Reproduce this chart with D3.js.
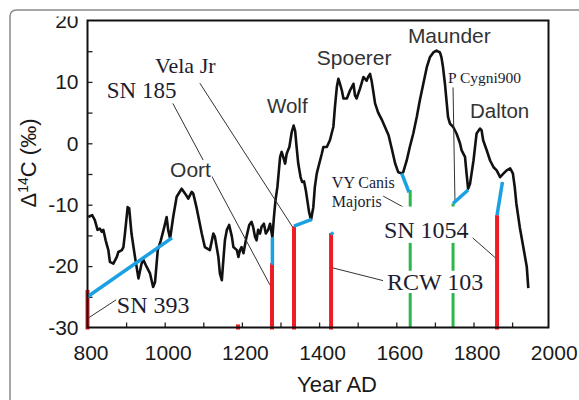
<!DOCTYPE html>
<html><head><meta charset="utf-8">
<script src="https://cdn.jsdelivr.net/npm/d3@7"></script>
<style>body{margin:0;background:#fff}svg{display:block}</style>
</head><body>
<svg id="c" width="579" height="400"></svg>
<script>
// ---- data ----
const years = [802,812,819,826,832,837,841,847,854,858,867,876,880,889,893,897,904,908,914,923,932,940,945,953,962,970,975,982,990,999,1005,1009,1014,1022,1031,1044,1053,1061,1070,1074,1083,1096,1104,1117,1126,1130,1139,1143,1148,1152,1156,1161,1167,1174,1178,1187,1191,1195,1199,1204,1212,1219,1225,1229,1234,1238,1242,1247,1251,1257,1262,1268,1273,1279,1283,1287,1292,1299,1303,1307,1312,1316,1323,1329,1334,1338,1342,1346,1352,1356,1361,1366,1370,1374,1379,1385,1389,1394,1398,1407,1411,1420,1428,1437,1441,1446,1450,1454,1459,1463,1472,1480,1485,1489,1493,1497,1506,1515,1523,1527,1532,1536,1540,1545,1553,1562,1571,1580,1588,1597,1605,1614,1618,1627,1635,1644,1653,1661,1670,1679,1687,1696,1704,1713,1717,1721,1726,1730,1734,1739,1747,1756,1765,1769,1778,1782,1786,1791,1800,1808,1817,1821,1825,1834,1843,1852,1860,1869,1878,1886,1895,1902,1907,1911,1920,1929,1938,1942];
const delta14C = [-12.0,-11.7,-12.5,-14.1,-13.9,-14.4,-14.1,-15.8,-17.4,-19.3,-19.6,-18.5,-17.7,-17.4,-16.9,-14.7,-10.4,-10.6,-14.7,-18.5,-22.0,-19.6,-19.0,-20.1,-21.2,-23.4,-22.6,-17.4,-15.8,-13.6,-12.0,-14.1,-15.5,-12.0,-8.7,-7.4,-8.2,-9.0,-7.9,-8.2,-10.6,-14.7,-16.9,-17.4,-14.7,-15.2,-18.5,-21.2,-22.3,-19.0,-15.8,-14.1,-13.3,-15.2,-16.9,-17.4,-18.5,-17.4,-16.9,-17.9,-15.2,-13.3,-12.8,-13.6,-15.2,-15.8,-14.1,-14.7,-13.6,-13.1,-14.7,-14.1,-13.1,-15.3,-12.0,-9.3,-7.1,-2.2,-1.4,-2.2,-3.3,-1.7,-0.6,1.8,2.9,2.0,-0.8,-3.3,-5.5,-6.3,-6.2,-7.8,-9.5,-11.2,-12.5,-10.4,-7.1,-4.9,-3.9,-1.7,-0.6,-0.6,0.5,2.7,5.9,9.2,10.5,9.7,8.6,7.3,7.3,8.6,9.2,9.7,7.8,7.3,8.9,10.8,10.2,10.8,11.3,10.2,8.6,6.5,5.0,3.9,2.6,1.3,-0.8,-3.3,-4.7,-4.9,-4.7,-2.8,-0.6,1.6,4.3,7.0,9.7,12.4,14.0,14.8,15.1,14.8,14.0,12.4,9.7,7.0,4.3,3.2,2.7,1.6,0.0,-1.1,-2.2,-4.9,-7.4,-6.6,-2.8,1.6,2.4,2.1,0.5,-1.1,-2.8,-3.9,-4.4,-5.5,-4.9,-4.4,-4.1,-4.9,-7.2,-9.8,-13.7,-16.9,-20.1,-23.6];

const xTickLabels = [800,1000,1200,1400,1600,1800,2000];
const xMinorTicks = [900,1000,1100,1200,1300,1400,1500,1600,1700,1800,1900];
const yTickLabels = [-30,-20,-10,0,10,20];
const yMinorTicks = [-25,-20,-15,-10,-5,0,5,10,15];

// red bars (supernova years) and tops
const redYears = [800,1190,1278,1335,1431,1861];
const redTops  = [-23.9,-29.5,-19.5,-13.5,-14.6,-11.7];
// green bars
const greenYears = [1636,1747];
const greenTops  = [-7.6,-9.8];
// blue connector segments [year1,value1,year2,value2]
const blueLinks = [
  [800,-25.0,1019,-15.4],
  [1279,-15.3,1279,-19.8],
  [1335,-13.5,1381,-12.4],
  [1431,-14.5,1436,-14.9],
  [1614,-4.9,1633,-8.0],
  [1747,-9.8,1786,-7.6],
  [1861,-11.7,1875,-6.3]
];
// solar minima labels
const periodNames  = ["Oort","Wolf","Spoerer","Maunder","Dalton"];
const periodYears  = [1014,1265,1394,1630,1791];
const periodValues = [-5.5,5.0,12.7,16.3,4.2];
// remnant labels
const remnantNames  = ["SN 393","SN 185","Vela Jr","VY Canis","Majoris","P Cygni900","SN 1054","RCW 103"];
const remnantYears  = [876,850,975,1433,1433,1734,1568,1576];
const remnantValues = [-27.6,7.3,11.4,-7.3,-10.4,9.9,-15.4,-23.9];
// pointer lines [year1,value1,year2,value2]
const pointers = [
  [801,-28.5,874,-25.5],
  [1021,6.5,1273,-23.1],
  [1091,9.8,1332,-13.7],
  [1566,-8.6,1633,-10.9],
  [1747,9.1,1752,-9.6],
  [1796,-15.3,1863,-19.0],
  [1436,-20.3,1568,-22.4]
];

// ---- drawing ----
const svg = d3.select("#c");
const x = d3.scaleLinear().domain([800,2000]).range([87.5,550.7]);
const y = d3.scaleLinear().domain([-30,20]).range([327.5,20.5]);
const frameRight = 548.5;

const serif = "'Liberation Serif','Times New Roman',serif";
const sans = "'Liberation Sans',Arial,sans-serif";

// axes ticks (inward)
const gx = svg.append("g").attr("transform",`translate(0,${y(-30)})`)
  .call(d3.axisBottom(x).tickValues(xMinorTicks).tickSize(-5).tickFormat(""));
gx.select(".domain").remove();
gx.selectAll("line").attr("stroke","#222").attr("stroke-width",1.3);
const gxl = svg.append("g").attr("transform",`translate(3,${y(-30)})`)
  .call(d3.axisBottom(x).tickValues(xTickLabels).tickSize(0).tickPadding(18).tickFormat(d=>String(d)));
gxl.select(".domain").remove();
gxl.selectAll("text").attr("font-family",sans).attr("font-size",21).attr("fill","#1a1a1a");

const gy = svg.append("g").attr("transform",`translate(${x(800)},0)`)
  .call(d3.axisLeft(y).tickValues(yMinorTicks).tickSize(-5).tickFormat(""));
gy.select(".domain").remove();
gy.selectAll("line").attr("stroke","#222").attr("stroke-width",1.3);
const gyl = svg.append("g").attr("transform",`translate(${x(800)},0)`)
  .call(d3.axisLeft(y).tickValues(yTickLabels).tickSize(0).tickPadding(9).tickFormat(d=>String(d)));
gyl.select(".domain").remove();
gyl.selectAll("text").attr("font-family",sans).attr("font-size",21).attr("fill","#1a1a1a");

// cut top of "20" like reference
svg.append("rect").attr("x",40).attr("y",0).attr("width",45).attr("height",16.5).attr("fill","#fff");

// outer rounded border
svg.append("rect").attr("x",10).attr("y",10).attr("width",620).attr("height",450).attr("rx",6)
  .attr("fill","none").attr("stroke","#8a8a8a").attr("stroke-width",1.5);

// curve
const pts = years.map((yr,i)=>[yr,delta14C[i]]);
svg.append("path").datum(pts)
  .attr("d",d3.line().x(d=>x(d[0])).y(d=>y(d[1])))
  .attr("fill","none").attr("stroke","#111").attr("stroke-width",2.6).attr("stroke-linejoin","round");

// pointer lines
svg.append("g").selectAll("line").data(pointers).join("line")
  .attr("x1",d=>x(d[0])).attr("y1",d=>y(d[1])).attr("x2",d=>x(d[2])).attr("y2",d=>y(d[3]))
  .attr("stroke","#333").attr("stroke-width",1);

// green bars
svg.append("g").selectAll("line").data(greenYears).join("line")
  .attr("x1",d=>x(d)).attr("x2",d=>x(d)).attr("y1",y(-30)).attr("y2",(d,i)=>y(greenTops[i]))
  .attr("stroke","#2bb84a").attr("stroke-width",3);

// red bars
svg.append("g").selectAll("line").data(redYears).join("line")
  .attr("x1",d=>x(d)).attr("x2",d=>x(d)).attr("y1",y(-30)+2).attr("y2",(d,i)=>y(redTops[i]))
  .attr("stroke","#ee1d25").attr("stroke-width",4);

// blue links
svg.append("g").selectAll("line").data(blueLinks).join("line")
  .attr("x1",d=>x(d[0])).attr("y1",d=>y(d[1])).attr("x2",d=>x(d[2])).attr("y2",d=>y(d[3]))
  .attr("stroke","#1ba0e2").attr("stroke-width",3.5);

// frame
svg.append("rect").attr("x",x(800)).attr("y",y(20)).attr("width",frameRight-x(800)).attr("height",y(-30)-y(20))
  .attr("fill","none").attr("stroke","#111").attr("stroke-width",2);

// period labels (Oort has white background)
const periodSizes = {Oort:21,Wolf:20.5,Spoerer:21,Maunder:21,Dalton:20.5};
periodNames.forEach((n,i)=>{
  const t = svg.append("text").attr("x",x(periodYears[i])).attr("y",y(periodValues[i]))
    .attr("font-family",sans).attr("font-size",periodSizes[n]).attr("fill","#333").text(n);
  if(n==="Oort"){
    const b = t.node().getBBox();
    svg.append("rect").attr("x",b.x-1).attr("y",b.y+2).attr("width",b.width+2).attr("height",b.height-2).attr("fill","#fff");
    t.raise();
  }
});

// remnant labels
const remSizes = {"SN 393":24,"SN 185":23,"Vela Jr":22,"VY Canis":16,"Majoris":16,"P Cygni900":15.5,"SN 1054":24,"RCW 103":24};
const remPad = {"SN 1054":[15,4,5,4],"RCW 103":[3,4,3,4]}; // top,right,bottom,left
remnantNames.forEach((n,i)=>{
  const t = svg.append("text").attr("x",x(remnantYears[i])).attr("y",y(remnantValues[i]))
    .attr("font-family",serif).attr("font-size",remSizes[n]).attr("fill","#1c1c30").text(n);
  if(remPad[n]){
    const b = t.node().getBBox(), p = remPad[n];
    const top = y(remnantValues[i]) - remSizes[n]*0.68, h = remSizes[n]*0.68;
    svg.append("rect").attr("x",b.x-p[3]).attr("y",top-p[0]).attr("width",b.width+p[1]+p[3]).attr("height",h+p[0]+p[2]).attr("fill","#fff");
    t.raise();
  }
});

// axis titles
svg.append("text").attr("x",337).attr("y",392).attr("text-anchor","middle")
  .attr("font-family",sans).attr("font-size",22).attr("fill","#1a1a1a").text("Year AD");
const yt = svg.append("text").attr("transform","translate(36,163) rotate(-90)").attr("text-anchor","middle")
  .attr("font-family",sans).attr("font-size",22).attr("fill","#1a1a1a");
yt.append("tspan").text("Δ");
yt.append("tspan").attr("font-size",14).attr("dy",-8).text("14");
yt.append("tspan").attr("dy",8).text("C (‰)");
</script>
</body></html>
